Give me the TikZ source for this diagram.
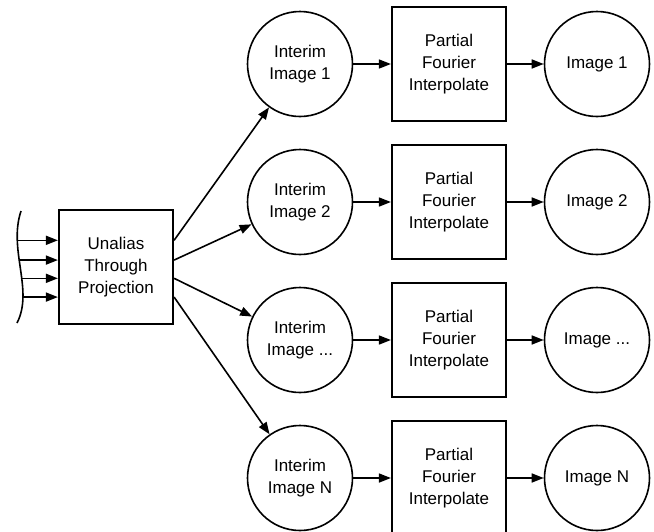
\documentclass[tikz,border=0pt]{standalone}
\usepackage{fontspec}
\setmainfont{Liberation Sans}
\usetikzlibrary{arrows.meta}
\tikzset{
  flow/.style={
    line width=1.6pt,
    -{Triangle[length=12pt,width=9pt]}
  },
  stagebox/.style={
    draw,
    line width=2.2pt,
    minimum size=114pt,
    inner sep=0pt,
    align=center,
    font=\fontsize{17}{22}\selectfont
  },
  imgcircle/.style={
    circle,
    draw,
    line width=1.6pt,
    minimum size=105pt,
    inner sep=0pt,
    align=center,
    font=\fontsize{17}{22}\selectfont
  }
}

\begin{document}
\begin{tikzpicture}[x=1pt,y=-1pt]
  \useasboundingbox (0,0) rectangle (654,531);
  % incoming wave front
  \draw[line width=1.6pt] (21,211) .. controls (8,250) and (34,290) .. (17,323)
    coordinate[pos=0.25] (in1) coordinate[pos=0.42] (in2)
    coordinate[pos=0.58] (in3) coordinate[pos=0.75] (in4);
  \node[stagebox] (unalias) at (116,267) {Unalias\\Through\\Projection};
  \draw[flow] (in1) -- (in1 -| unalias.west);
  \draw[flow] (in2) -- (in2 -| unalias.west);
  \draw[flow] (in3) -- (in3 -| unalias.west);
  \draw[flow] (in4) -- (in4 -| unalias.west);
  % row 1
  \node[imgcircle] (interim1) at (300,64) {Interim\\Image 1};
  \node[stagebox] (pfi1) at (449,64) {Partial\\Fourier\\Interpolate};
  \node[imgcircle] (image1) at (597,64) {Image 1};
  % row 2
  \node[imgcircle] (interim2) at (300,202) {Interim\\Image 2};
  \node[stagebox] (pfi2) at (449,202) {Partial\\Fourier\\Interpolate};
  \node[imgcircle] (image2) at (597,202) {Image 2};
  % row 3
  \node[imgcircle] (interim3) at (300,340) {Interim\\Image ...};
  \node[stagebox] (pfi3) at (449,340) {Partial\\Fourier\\Interpolate};
  \node[imgcircle] (image3) at (597,340) {Image ...};
  % row N
  \node[imgcircle] (interimN) at (300,478) {Interim\\Image N};
  \node[stagebox] (pfiN) at (449,478) {Partial\\Fourier\\Interpolate};
  \node[imgcircle] (imageN) at (597,478) {Image N};
  % fan out
  \draw[flow] (unalias.east |- in1) -- (interim1);
  \draw[flow] (unalias.east |- in2) -- (interim2);
  \draw[flow] (unalias.east |- in3) -- (interim3);
  \draw[flow] (unalias.east |- in4) -- (interimN);
  % rows
  \draw[flow] (interim1) -- (pfi1);
  \draw[flow] (pfi1) -- (image1);
  \draw[flow] (interim2) -- (pfi2);
  \draw[flow] (pfi2) -- (image2);
  \draw[flow] (interim3) -- (pfi3);
  \draw[flow] (pfi3) -- (image3);
  \draw[flow] (interimN) -- (pfiN);
  \draw[flow] (pfiN) -- (imageN);
\end{tikzpicture}
\end{document}
